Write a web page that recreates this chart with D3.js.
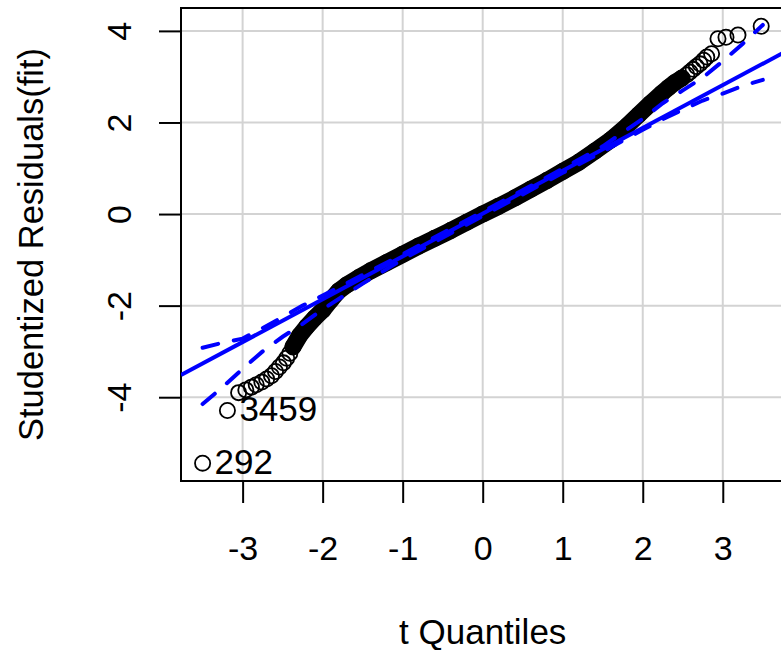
<!DOCTYPE html>
<html>
<head>
<meta charset="utf-8">
<script src="https://cdn.jsdelivr.net/npm/d3@7"></script>
<style>
  body { margin: 0; background: #fff; }
  svg { display: block; font-family: "Liberation Sans", Arial, sans-serif; }
</style>
</head>
<body>
<svg id="qq" width="781" height="650"></svg>
<script>
// dense, overplotted stretch of the QQ points (read along the black band)
const bodyT = [-2.37, -2.29, -2.20, -2.10, -2.00, -1.90, -1.80, -1.70, -1.55, -1.40, -1.20, -1.00,
  -0.80, -0.60, -0.40, -0.20, 0.00, 0.20, 0.40, 0.60, 0.80, 1.00, 1.20, 1.40, 1.60, 1.80,
  1.95, 2.10, 2.24, 2.32, 2.40, 2.49];
const bodyR = [-2.90, -2.66, -2.46, -2.27, -2.10, -1.88, -1.68, -1.55, -1.39, -1.24, -1.06, -0.88,
  -0.70, -0.53, -0.36, -0.18, 0.00, 0.17, 0.35, 0.54, 0.73, 0.93, 1.13, 1.37, 1.62, 1.92,
  2.17, 2.42, 2.64, 2.76, 2.87, 2.97];

// points in the tails that can be told apart
const tailT = [-3.50, -3.19, -3.05, -2.96, -2.89, -2.83, -2.76, -2.70, -2.64, -2.59, -2.54, -2.49, -2.45, -2.41,
  2.55, 2.59, 2.63, 2.67, 2.715, 2.76, 2.80, 2.86, 2.94, 3.04, 3.19, 3.48];
const tailR = [-5.44, -4.29, -3.90, -3.84, -3.78, -3.73, -3.67, -3.60, -3.53, -3.44, -3.34, -3.25, -3.15, -3.04,
  3.04, 3.10, 3.16, 3.22, 3.28, 3.36, 3.43, 3.50, 3.83, 3.86, 3.91, 4.10];

// labelled outliers
const labelIds = ["292", "3459"];
const labelT = [-3.50, -3.19];
const labelR = [-5.44, -4.29];

// reference line (intercept, slope)
const fitLine = [0.01, 0.935];

// simulated confidence envelope
const envT = [-3.5, -3.25, -3.0, -2.75, -2.5, -2.25, -2.0, -1.5, -1.0, 0, 1.0, 1.5, 2.0, 2.25, 2.5, 2.75, 3.0, 3.25, 3.5];
const envUpper = [-2.92, -2.81, -2.72, -2.49, -2.25, -2.00, -1.78, -1.33, -0.88, 0.05, 0.99, 1.48, 2.08, 2.42, 2.70, 2.98, 3.34, 3.72, 4.13];
const envLower = [-4.15, -3.78, -3.38, -3.00, -2.68, -2.40, -2.08, -1.52, -0.99, -0.04, 0.90, 1.36, 1.84, 2.07, 2.28, 2.48, 2.63, 2.80, 2.93];

const xTicks = [-3, -2, -1, 0, 1, 2, 3];
const yTicks = [-4, -2, 0, 2, 4];

const svg = d3.select("#qq");
const plotL = 181, plotR = 784.4, plotT = 8, plotB = 481;

const x = d3.scaleLinear().domain([-3.77, 3.77]).range([plotL, plotR]);
const y = d3.scaleLinear().domain([-5.83, 4.50]).range([plotB, plotT]);

svg.append("clipPath").attr("id", "plotclip")
  .append("rect").attr("x", plotL).attr("y", plotT)
  .attr("width", plotR - plotL).attr("height", plotB - plotT);

// grid
const grid = svg.append("g").attr("stroke", "#d3d3d3").attr("stroke-width", 2);
grid.selectAll("line.v").data(xTicks).join("line")
  .attr("class", "v")
  .attr("x1", d => x(d)).attr("x2", d => x(d))
  .attr("y1", plotT).attr("y2", plotB);
grid.selectAll("line.h").data(yTicks).join("line")
  .attr("class", "h")
  .attr("x1", plotL).attr("x2", plotR)
  .attr("y1", d => y(d)).attr("y2", d => y(d));

// box
svg.append("rect")
  .attr("x", plotL).attr("y", plotT)
  .attr("width", plotR - plotL).attr("height", plotB - plotT)
  .attr("fill", "none").attr("stroke", "#000").attr("stroke-width", 2);

// axes (plain hyphen minus, as R prints it)
const fmt = d => String(d);
const xAxis = svg.append("g")
  .attr("transform", `translate(0,${plotB})`)
  .call(d3.axisBottom(x).tickValues(xTicks).tickSize(22).tickFormat(fmt));
xAxis.select(".domain").remove();
xAxis.selectAll(".tick line").attr("stroke-width", 2);
xAxis.selectAll(".tick text")
  .attr("y", 79).attr("dy", null)
  .attr("font-size", 34).attr("font-family", "Liberation Sans, Arial, sans-serif");

const yAxis = svg.append("g")
  .attr("transform", `translate(${plotL},0)`)
  .call(d3.axisLeft(y).tickValues(yTicks).tickSize(22).tickFormat(fmt));
yAxis.select(".domain").remove();
yAxis.selectAll(".tick line").attr("stroke-width", 2);
yAxis.selectAll(".tick text")
  .attr("x", null).attr("dy", null)
  .attr("text-anchor", "middle")
  .attr("transform", "translate(-50,0) rotate(-90)")
  .attr("font-size", 34).attr("font-family", "Liberation Sans, Arial, sans-serif");

// axis titles
svg.append("text")
  .attr("x", (plotL + plotR) / 2).attr("y", 644)
  .attr("text-anchor", "middle").attr("font-size", 35)
  .text("t Quantiles");
svg.append("text")
  .attr("transform", `translate(43,${(plotT + plotB) / 2}) rotate(-90)`)
  .attr("text-anchor", "middle").attr("font-size", 34.5)
  .text("Studentized Residuals(fit)");

const plot = svg.append("g").attr("clip-path", "url(#plotclip)");
const r = 7.6, ringW = 1.8;

// overplotted body
const body = bodyT.map((t, i) => [t, bodyR[i]]);
plot.append("path")
  .datum(body)
  .attr("fill", "none").attr("stroke", "#000")
  .attr("stroke-width", 2 * r + ringW)
  .attr("stroke-linecap", "round").attr("stroke-linejoin", "round")
  .attr("d", d3.line().x(d => x(d[0])).y(d => y(d[1])));

plot.append("g").selectAll("circle")
  .data(body.concat(tailT.map((t, i) => [t, tailR[i]])))
  .join("circle")
  .attr("cx", d => x(d[0])).attr("cy", d => y(d[1]))
  .attr("r", r)
  .attr("fill", "none").attr("stroke", "#000").attr("stroke-width", ringW);

// fitted line
plot.append("line")
  .attr("x1", x(x.domain()[0])).attr("y1", y(fitLine[0] + fitLine[1] * x.domain()[0]))
  .attr("x2", x(x.domain()[1])).attr("y2", y(fitLine[0] + fitLine[1] * x.domain()[1]))
  .attr("stroke", "#0000ff").attr("stroke-width", 4);

// envelope
const envLine = d3.line().x(d => x(d[0])).y(d => y(d[1]));
[envUpper, envLower].forEach(env => {
  plot.append("path")
    .datum(envT.map((t, i) => [t, env[i]]))
    .attr("fill", "none").attr("stroke", "#0000ff")
    .attr("stroke-width", 4)
    .attr("stroke-dasharray", "16,16")
    .attr("stroke-linecap", "round")
    .attr("d", envLine);
});

// outlier labels
svg.append("g").selectAll("text")
  .data(labelIds)
  .join("text")
  .attr("x", (d, i) => x(labelT[i]) + 12)
  .attr("y", (d, i) => y(labelR[i]) + 11)
  .attr("font-size", 35)
  .text(d => d);
</script>
</body>
</html>
